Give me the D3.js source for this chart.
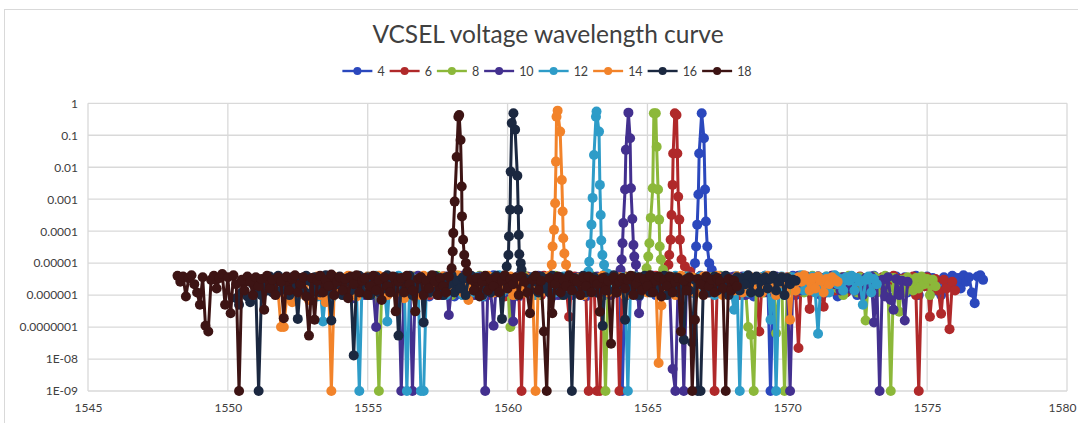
<!DOCTYPE html>
<html>
<head>
<meta charset="utf-8">
<script src="https://cdn.jsdelivr.net/npm/d3@7"></script>
<style>
  body { margin: 0; background: #fff; }
  svg { display: block; }
</style>
</head>
<body>
<svg id="chart" width="1078" height="423"></svg>
<script>
// Drive voltage of each sweep (series name) and its colour
const seriesNames = ["4", "6", "8", "10", "12", "14", "16", "18"];
const seriesColors = ["#2b48bd", "#b0292a", "#8cb83a", "#43308f", "#2e9cc8", "#f2832a", "#1b2840", "#3d1414"];

// Spectrum sampling: first wavelength of each sweep (nm) and the instrument step
const sweepStart = [1557.0, 1556.0, 1555.3, 1554.3, 1553.2, 1551.8, 1550.3, 1548.2];
const sampleStep = 0.1;

// Noise-floor readings, in units of 1e-6 (0.001 = the 1E-09 floor)
const floorUnit = 1e-6;
const floor4 = [
  1.2, 3.0, 0.9, 2.6, 1.6, 3.8, 1.0, 2.2, 3.4, 1.4,
  2.6, 0.9, 3.4, 1.9, 4.0, 1.2, 2.2, 3.0, 1.0, 2.6,
  3.8, 1.4, 0.9, 3.0, 1.9, 4.2, 1.2, 2.6, 3.4, 1.0,
  2.2, 3.6, 1.4, 3.0, 0.9, 1.9, 3.8, 1.2, 2.6, 1.6,
  3.4, 1.0, 2.2, 3.8, 1.4, 2.6, 0.9, 3.0, 1.9, 3.6,
  1.2, 2.6, 4.0, 1.0, 2.2, 3.4, 1.6, 2.8, 0.9, 3.0,
  1.9, 3.6, 1.2, 2.6, 3.8, 1.0, 2.2, 1.4, 3.2, 2.6,
  3.8, 0.001, 1.9, 3.0, 1.2, 3.4, 2.2, 0.9, 2.6, 3.6,
  1.4, 2.8, 4.0, 1.0, 3.0, 1.9, 2.6, 3.8, 1.2, 2.2,
  3.4, 1.0, 2.6, 1.6, 3.8, 2.2, 3.0, 3.6, 4.2, 4.4,
  4.6, 4.2, 3.8, 4.4, 3.6, 3.0, 1.9, 3.4, 1.2, 2.6,
  1.6, 3.8, 1.0, 3.0, 2.2, 1.4, 3.6, 2.6, 0.9, 3.0,
  1.9, 3.4, 2.2, 3.8, 0.001, 1.6, 1.0, 3.0, 3.6, 1.4,
  2.6, 1.9, 4.0, 1.0, 3.2, 2.2, 1.4, 3.6, 1.2, 3.0,
  2.2, 3.8, 1.0, 2.6, 3.4, 1.6, 3.0, 4.0, 0.9, 1.9,
  3.4, 1.2, 2.6, 3.8, 1.9, 1.0, 3.6, 2.2, 3.0, 1.4,
  2.6, 4.0, 1.2, 3.2, 2.2, 3.6, 0.9, 3.0, 1.9, 3.8,
  1.4, 2.6, 3.6, 1.2, 3.4, 2.2, 4.0, 1.0, 3.0, 1.9,
  3.8, 2.2, 3.4, 1.4, 2.8, 1.0, 3.6, 1.9, 3.0, 4.0,
  2.2, 3.4, 1.6, 4.2, 2.6, 3.6, 1.2, 0.56, 3.8, 4.2,
  3.0
];
const floor6 = [
  2.6, 1.2, 3.4, 1.6, 2.8, 0.9, 3.8, 1.9, 1.2, 3.0,
  2.2, 3.6, 1.0, 2.6, 1.6, 3.4, 1.0, 3.8, 2.2, 1.4,
  3.4, 1.2, 3.0, 4.0, 1.0, 2.6, 3.6, 1.6, 2.8, 1.2,
  3.2, 1.9, 3.8, 1.0, 3.0, 2.2, 1.4, 3.4, 2.6, 0.9,
  3.6, 2.2, 1.4, 3.0, 1.9, 0.001, 2.8, 3.8, 1.2, 2.6,
  1.6, 3.4, 1.0, 4.0, 2.2, 1.4, 3.2, 1.9, 3.6, 1.0,
  3.0, 1.6, 0.21, 2.6, 3.8, 1.4, 3.2, 2.2, 1.2, 0.001,
  3.4, 1.9, 0.001, 0.001, 3.0, 1.4, 3.6, 2.6, 1.2, 3.2,
  0.001, 2.2, 3.8, 1.0, 3.0, 1.6, 3.4, 1.2, 2.6, 3.6,
  1.4, 3.2, 1.9, 4.0, 1.2, 3.0, 2.2, 3.4, 4.0, 4.4,
  4.8, 4.2, 4.6, 4.4, 4.0, 3.6, 2.6, 3.4, 1.6, 3.0,
  2.2, 3.8, 1.2, 3.0, 0.001, 3.4, 1.9, 3.6, 1.2, 2.6,
  3.2, 1.6, 3.8, 1.0, 3.0, 2.2, 3.4, 1.4, 2.6, 3.6,
  0.073, 3.0, 1.9, 3.8, 1.2, 3.2, 2.6, 1.6, 3.4, 1.2,
  3.6, 2.2, 3.0, 1.2, 0.022, 3.4, 1.9, 3.8, 0.37, 2.6,
  1.4, 3.4, 1.2, 0.43, 3.0, 2.2, 4.0, 1.4, 3.2, 1.9,
  3.6, 1.2, 2.6, 3.4, 1.6, 3.0, 3.8, 1.0, 2.2, 3.2,
  1.4, 3.4, 2.6, 1.6, 3.6, 1.2, 3.0, 2.2, 4.0, 1.9,
  3.2, 1.2, 3.4, 2.6, 1.6, 3.8, 1.0, 0.001, 3.0, 1.9,
  3.6, 0.21, 2.2, 3.2, 1.4, 0.26, 3.0, 1.6, 0.086, 2.6,
  1.4
];
const floor8 = [
  1.2, 0.001, 1.6, 0.9, 3.0, 1.2, 2.6, 3.6, 1.0, 2.2,
  1.4, 3.2, 0.9, 1.9, 3.8, 1.2, 2.8, 1.0, 3.4, 1.6,
  3.0, 1.2, 4.0, 2.2, 1.4, 3.4, 2.6, 1.0, 3.6, 1.6,
  2.8, 3.8, 1.2, 3.0, 1.9, 1.0, 3.4, 4.0, 1.4, 2.6,
  3.2, 1.4, 3.6, 2.2, 3.0, 1.2, 3.8, 2.6, 0.1, 1.9,
  3.4, 1.4, 2.8, 4.0, 1.2, 3.2, 1.9, 3.6, 1.0, 3.0,
  2.2, 3.6, 1.4, 3.0, 4.0, 1.6, 1.0, 3.4, 2.6, 3.8,
  1.4, 3.0, 2.2, 3.6, 1.0, 3.4, 2.6, 4.0, 1.4, 2.8,
  3.2, 1.6, 0.001, 3.4, 1.2, 3.0, 3.8, 2.2, 1.4, 3.6,
  2.6, 1.2, 3.8, 2.2, 3.2, 1.4, 3.4, 3.8, 4.4, 4.0,
  4.6, 4.2, 3.8, 4.8, 4.0, 3.0, 1.9, 3.6, 1.2, 3.2,
  2.2, 3.8, 1.4, 3.0, 3.4, 1.2, 3.6, 1.9, 3.2, 1.6,
  3.6, 1.4, 2.6, 4.0, 2.2, 1.2, 3.4, 3.0, 1.6, 3.8,
  1.4, 3.2, 2.2, 0.1, 0.057, 0.001, 3.0, 1.6, 3.6, 1.2,
  3.4, 2.6, 3.8, 0.064, 1.9, 3.2, 0.001, 2.2, 3.6, 1.4,
  3.0, 1.6, 3.6, 1.2, 3.2, 2.6, 4.0, 1.9, 1.4, 3.4,
  2.2, 3.8, 1.4, 3.0, 3.4, 1.6, 3.6, 1.0, 2.6, 4.0,
  1.9, 3.2, 1.2, 3.6, 2.6, 0.16, 3.0, 1.6, 3.8, 1.2,
  3.2, 2.2, 4.0, 1.6, 0.001, 3.4, 1.9, 0.3, 3.0, 1.2,
  3.6, 2.6, 1.4, 3.4, 1.6, 3.8, 2.2, 3.2, 1.0, 3.0,
  1.9
];
const floor10 = [
  0.9, 1.6, 0.8, 2.6, 1.2, 3.4, 1.0, 1.9, 3.0, 1.4,
  0.1, 2.8, 1.4, 3.6, 1.0, 2.2, 3.2, 1.2, 3.8, 0.001,
  2.6, 1.4, 3.4, 0.001, 1.9, 4.0, 1.2, 3.0, 2.2, 1.4,
  3.6, 2.6, 1.4, 3.2, 1.0, 3.8, 0.24, 1.9, 3.4, 1.2,
  3.0, 4.0, 1.4, 2.6, 3.6, 1.0, 2.8, 3.8, 1.6, 0.001,
  3.2, 1.2, 0.11, 3.0, 2.2, 3.8, 1.2, 3.4, 2.6, 0.15,
  2.8, 4.0, 1.4, 3.2, 1.9, 3.6, 1.0, 3.0, 4.0, 1.6,
  2.6, 3.4, 1.2, 3.8, 2.2, 1.0, 3.2, 2.8, 3.8, 1.4,
  3.0, 1.6, 3.6, 1.2, 2.8, 4.0, 1.4, 3.2, 2.2, 3.8,
  1.2, 3.0, 1.6, 3.4, 1.0, 3.8, 2.6, 3.6, 4.2, 4.6,
  4.2, 3.8, 4.4, 4.0, 0.27, 3.4, 2.6, 1.4, 3.2, 1.6,
  3.6, 1.2, 3.0, 2.2, 3.8, 1.4, 0.0049, 0.001, 2.8, 3.4,
  0.001, 2.6, 3.8, 1.2, 3.2, 1.6, 4.0, 1.4, 3.0, 2.2,
  3.4, 1.4, 2.8, 3.8, 1.2, 3.2, 2.6, 3.6, 1.4, 3.0,
  1.6, 3.8, 1.0, 3.4, 2.8, 1.4, 3.6, 2.2, 3.2, 4.0,
  1.2, 3.0, 1.6, 3.8, 2.6, 1.2, 3.4, 2.8, 0.001, 3.2,
  2.2, 4.0, 1.4, 3.0, 3.6, 1.6, 3.2, 1.4, 3.8, 2.6,
  3.4, 1.2, 2.8, 4.0, 2.2, 3.2, 1.4, 3.6, 3.0, 1.6,
  3.8, 1.4, 3.2, 2.6, 1.0, 3.4, 1.6, 3.8, 0.14, 2.8,
  0.001, 3.0, 0.9, 3.6, 0.7, 0.35, 3.2, 1.0, 2.8, 0.16,
  2.6
];
const floor12 = [
  0.9, 1.9, 0.15, 1.2, 3.0, 0.8, 2.6, 1.2, 3.6, 1.4,
  2.8, 1.0, 3.4, 1.6, 1.2, 0.001, 3.2, 1.4, 3.8, 1.0,
  2.6, 4.0, 1.2, 3.0, 1.6, 0.15, 3.6, 1.4, 2.8, 4.0,
  1.2, 3.2, 0.001, 2.2, 3.4, 1.2, 3.0, 0.001, 0.001, 2.6,
  3.8, 1.2, 2.8, 1.4, 3.6, 2.2, 1.0, 3.2, 4.0, 1.4,
  2.6, 3.4, 1.0, 3.8, 1.6, 3.0, 1.2, 3.6, 2.2, 0.9,
  3.2, 1.6, 3.6, 1.4, 2.8, 4.2, 1.2, 3.0, 2.6, 1.4,
  3.4, 1.0, 3.8, 2.2, 3.2, 1.2, 2.8, 3.6, 1.0, 3.0,
  1.6, 3.6, 1.4, 2.6, 4.0, 1.2, 3.2, 2.2, 3.8, 1.2,
  2.8, 1.4, 3.4, 1.6, 3.0, 1.0, 3.6, 3.4, 4.4, 4.0,
  3.8, 4.2, 3.6, 4.0, 4.6, 3.4, 2.2, 3.0, 1.4, 3.6,
  2.6, 0.001, 3.2, 1.4, 3.8, 1.6, 1.2, 3.0, 3.8, 2.2,
  1.2, 3.4, 2.8, 1.0, 3.6, 1.6, 3.2, 1.4, 4.0, 2.6,
  3.0, 1.4, 3.8, 2.2, 1.2, 3.2, 2.8, 3.8, 1.4, 3.4,
  1.6, 3.0, 1.0, 3.6, 2.6, 1.4, 3.8, 2.8, 1.2, 0.35,
  3.2, 0.001, 2.2, 3.8, 1.2, 3.0, 1.6, 3.6, 1.4, 2.8,
  4.0, 2.6, 0.17, 3.4, 0.001, 1.6, 3.8, 1.0, 3.0, 2.2,
  3.6, 1.4, 2.8, 4.2, 1.4, 3.2, 2.6, 3.8, 1.2, 0.062,
  3.0, 1.6, 3.8, 1.2, 3.4, 4.2, 2.2, 3.2, 1.4, 3.6,
  2.8, 4.0, 1.4, 3.4, 2.6, 0.5, 3.0, 3.8, 1.2, 3.2,
  2.2
];
const floor14 = [
  1.2, 0.1, 0.1, 0.8, 1.6, 0.6, 2.8, 1.0, 3.4, 1.2,
  2.6, 0.7, 3.0, 1.4, 3.8, 1.0, 2.6, 0.6, 3.2, 0.001,
  1.4, 3.6, 1.9, 1.0, 3.4, 4.0, 1.4, 2.8, 0.9, 3.6,
  2.2, 1.2, 3.8, 3.0, 1.2, 2.6, 4.0, 1.4, 3.2, 1.0,
  3.6, 1.9, 1.2, 3.4, 2.8, 0.8, 3.0, 3.8, 1.4, 2.2,
  3.2, 1.0, 4.0, 2.6, 1.4, 3.6, 1.2, 3.0, 1.9, 3.8,
  1.2, 2.8, 3.4, 1.4, 4.2, 2.2, 1.2, 3.2, 0.7, 3.8,
  2.6, 1.4, 3.4, 1.0, 3.0, 4.0, 1.9, 1.2, 3.6, 2.8,
  1.4, 3.2, 2.2, 3.8, 1.0, 3.0, 1.6, 4.0, 1.2, 3.4,
  2.6, 1.4, 0.001, 3.2, 1.2, 3.6, 2.8, 4.0, 4.6, 4.2,
  4.0, 3.8, 4.4, 4.2, 3.6, 2.6, 1.4, 3.4, 1.6, 1.0,
  3.0, 3.6, 1.2, 2.6, 3.4, 1.4, 4.0, 2.2, 1.2, 3.2,
  2.8, 1.4, 3.6, 1.6, 1.0, 3.4, 2.6, 3.8, 1.2, 3.0,
  1.6, 3.2, 1.2, 3.6, 2.2, 3.0, 0.0075, 0.47, 3.4, 1.4,
  2.8, 3.6, 1.0, 2.6, 4.0, 1.4, 3.2, 1.6, 3.6, 1.2,
  3.0, 2.2, 3.8, 1.2, 2.8, 3.4, 1.4, 4.0, 2.6, 1.0,
  3.6, 1.6, 3.0, 1.4, 3.8, 2.6, 1.2, 3.2, 2.2, 3.6,
  1.4, 2.8, 3.4, 1.2, 3.0, 4.0, 1.6, 3.2, 1.0, 2.6,
  3.6, 2.2, 3.4, 0.17, 2.8, 1.4, 3.6, 2.6, 4.2, 3.0,
  1.4, 3.4, 1.6, 3.8, 2.8, 1.2, 3.2, 2.2, 3.6, 3.0,
  2.6
];
const floor16 = [
  0.8, 0.5, 1.2, 2.6, 0.9, 0.6, 2.2, 1.4, 0.001, 1.0,
  3.0, 1.4, 3.8, 1.2, 2.6, 4.0, 1.4, 3.2, 1.9, 1.0,
  3.6, 2.2, 0.18, 3.4, 1.4, 4.0, 2.8, 1.2, 3.6, 1.6,
  1.2, 3.0, 4.2, 1.4, 0.16, 3.2, 2.2, 3.8, 1.0, 2.6,
  3.4, 1.4, 0.013, 3.0, 4.0, 1.2, 2.8, 3.6, 1.0, 2.2,
  3.8, 1.2, 3.2, 1.6, 4.2, 1.4, 2.6, 3.6, 0.054, 3.0,
  1.4, 3.4, 4.0, 1.0, 2.8, 1.6, 3.6, 0.14, 2.6, 1.2,
  3.2, 4.0, 1.4, 3.0, 1.0, 3.6, 2.2, 4.2, 1.2, 2.8,
  1.6, 3.6, 1.0, 3.2, 4.0, 1.4, 2.6, 3.4, 1.0, 3.8,
  2.2, 1.2, 3.4, 4.0, 2.8, 0.18, 3.2, 4.4, 4.8, 4.2,
  4.0, 3.6, 4.4, 3.4, 3.0, 1.4, 3.4, 2.6, 1.2, 3.8,
  1.6, 3.2, 1.2, 4.0, 2.6, 1.4, 3.6, 1.0, 3.0, 2.2,
  0.001, 3.4, 1.4, 2.8, 4.0, 1.2, 3.2, 1.6, 3.6, 1.2,
  2.6, 0.11, 3.6, 1.4, 3.0, 4.2, 1.2, 2.2, 3.4, 0.17,
  2.8, 1.4, 3.8, 1.6, 1.0, 3.2, 4.0, 2.6, 1.2, 3.0,
  3.6, 1.4, 2.8, 4.0, 1.0, 3.4, 1.6, 3.6, 1.2, 2.6,
  0.04, 3.2, 1.4, 0.033, 3.0, 0.001, 0.001, 2.2, 3.6, 1.2,
  2.8, 3.8, 1.4, 3.2, 1.6, 4.0, 1.0, 3.0, 2.6, 3.6,
  1.4, 3.4, 2.2, 4.2, 1.2, 3.0, 3.8, 1.2, 2.8, 3.6,
  1.6, 3.2, 4.0, 1.4, 2.6, 3.6, 1.0, 3.4, 2.2, 3.0,
  2.8
];
const floor18 = [
  4.0, 2.6, 3.8, 0.9, 3.4, 4.2, 2.2, 1.2, 0.5, 3.6,
  0.11, 0.073, 3.0, 4.0, 1.6, 3.4, 4.6, 0.5, 3.6, 0.27,
  4.2, 2.2, 0.001, 3.0, 1.4, 3.8, 2.6, 1.0, 3.6, 1.9,
  3.2, 0.35, 4.0, 1.6, 3.0, 1.0, 3.6, 2.6, 0.19, 3.8,
  1.4, 3.2, 4.2, 1.2, 2.2, 3.6, 0.9, 0.054, 3.4, 0.17,
  2.8, 4.0, 1.2, 3.0, 1.9, 4.4, 1.0, 2.6, 3.6, 1.4,
  3.2, 0.8, 3.8, 2.2, 4.2, 1.2, 2.8, 3.4, 1.0, 1.9,
  4.0, 1.4, 3.0, 0.7, 3.6, 1.9, 1.2, 3.8, 0.31, 2.6,
  3.4, 1.2, 4.0, 2.2, 1.4, 0.31, 3.2, 3.6, 1.0, 2.8,
  1.6, 4.2, 2.6, 1.0, 3.4, 1.9, 1.2, 3.8, 4.4, 4.0,
  3.8, 3.2, 4.2, 3.6, 4.4, 3.0, 1.4, 3.4, 0.9, 2.6,
  4.0, 1.4, 3.0, 1.9, 3.6, 1.2, 2.8, 4.2, 1.6, 3.2,
  2.2, 3.6, 1.0, 3.8, 2.6, 1.2, 0.27, 3.0, 4.0, 1.4,
  2.8, 0.073, 0.001, 3.4, 0.27, 2.2, 3.8, 1.2, 3.0, 1.9,
  4.2, 1.4, 3.2, 2.6, 1.0, 3.6, 1.9, 3.8, 1.2, 3.0,
  2.2, 0.3, 3.4, 1.4, 2.8, 0.03, 3.6, 1.2, 2.6, 3.4,
  1.6, 3.0, 4.0, 1.0, 2.2, 3.6, 1.4, 3.2, 1.9, 4.2,
  1.2, 2.8, 3.8, 0.9, 3.0, 1.9, 3.8, 1.2, 2.6, 3.4,
  0.073, 2.8, 1.4, 3.6, 0.001, 0.17, 3.2, 2.2, 1.0, 3.8,
  1.9, 3.0, 1.2, 3.4, 2.6, 1.6, 0.001, 3.2, 1.4, 2.8,
  1.9
];

// Lasing peaks: [wavelength nm, power], finely sampled around each line
const peak4 = [[1566.70,1.0e-5],[1566.74,3.3e-5],[1566.78,1.6e-4],[1566.82,1.4e-3],[1566.85,0.027],[1566.94,0.49],
  [1567.02,0.081],[1567.06,2.0e-3],[1567.09,2.0e-4],[1567.14,3.3e-5],[1567.21,1.0e-5],[1567.30,6.2e-6]];
const peak6 = [[1565.75,8.9e-6],[1565.78,1.8e-5],[1565.83,5.4e-5],[1565.86,3.2e-4],[1565.90,2.8e-3],[1565.92,0.027],
  [1565.98,0.49],[1566.04,0.43],[1566.07,0.027],[1566.10,1.2e-3],[1566.14,2.3e-4],[1566.16,5.4e-5],[1566.22,1.3e-5],
  [1566.34,7.9e-6],[1566.52,5.5e-6]];
const peak8 = [[1564.97,6.9e-6],[1565.03,1.6e-5],[1565.07,4.2e-5],[1565.12,2.6e-4],[1565.19,2.2e-3],[1565.23,0.49],
  [1565.30,0.49],[1565.33,0.044],[1565.38,2.0e-3],[1565.42,2.3e-4],[1565.44,3.3e-5],[1565.48,1.3e-5],[1565.56,6.2e-6]];
const peak10 = [[1564.04,6.2e-6],[1564.08,1.3e-5],[1564.11,4.2e-5],[1564.14,1.8e-4],[1564.20,2.0e-3],[1564.23,0.035],
  [1564.32,0.51],[1564.38,0.081],[1564.41,2.2e-3],[1564.46,2.4e-4],[1564.50,3.7e-5],[1564.53,1.6e-5],[1564.59,8.9e-6]];
const peak12 = [[1562.89,5.5e-6],[1562.92,1.1e-5],[1562.97,4.0e-5],[1563.00,1.6e-4],[1563.04,1.1e-3],[1563.09,0.024],
  [1563.16,0.38],[1563.18,0.55],[1563.27,0.13],[1563.30,2.8e-3],[1563.33,3.2e-4],[1563.35,5.1e-5],[1563.39,1.8e-5],
  [1563.45,8.9e-6],[1563.52,4.9e-6]];
const peak14 = [[1561.58,8.9e-6],[1561.61,3.3e-5],[1561.66,1.1e-4],[1561.70,7.5e-4],[1561.73,0.015],[1561.75,0.38],
  [1561.79,0.59],[1561.88,0.13],[1561.94,4.0e-3],[1561.97,4.1e-4],[1561.99,6.0e-5],[1562.03,2.0e-5],[1562.09,8.9e-6]];
const peak16 = [[1559.97,7.8e-6],[1560.03,1.8e-5],[1560.05,6.8e-5],[1560.09,4.7e-4],[1560.11,7.3e-3],[1560.15,0.24],
  [1560.21,0.49],[1560.27,0.15],[1560.35,5.4e-3],[1560.38,4.7e-4],[1560.40,7.6e-5],[1560.42,1.9e-5],[1560.47,1.0e-5],
  [1560.50,6.2e-6]];
const peak18 = [[1558.00,6.9e-6],[1558.04,2.3e-5],[1558.06,8.7e-5],[1558.11,8.4e-4],[1558.18,0.021],[1558.24,0.38],
  [1558.27,0.43],[1558.32,0.071],[1558.36,2.5e-3],[1558.37,2.9e-4],[1558.41,5.4e-5],[1558.45,1.8e-5],[1558.51,1.0e-5],
  [1558.56,5.5e-6]];

// Axis ticks
const xTicks = [1545, 1550, 1555, 1560, 1565, 1570, 1575, 1580];
const yTicks = [1, 0.1, 0.01, 0.001, 0.0001, 0.00001, 0.000001, 0.0000001, 1e-8, 1e-9];
const yTickLabels = ["1", "0.1", "0.01", "0.001", "0.0001", "0.00001", "0.000001", "0.0000001", "1E-08", "1E-09"];

const titleText = "VCSEL voltage wavelength curve";

const floors = [floor4, floor6, floor8, floor10, floor12, floor14, floor16, floor18];
const peaks = [peak4, peak6, peak8, peak10, peak12, peak14, peak16, peak18];

// Merge each sweep's floor samples with its finely sampled peak
const series = seriesNames.map((name, i) => {
  const pk = peaks[i];
  const lo = pk[0][0] - 0.05, hi = pk[pk.length - 1][0] + 0.05;
  const pts = floors[i]
    .map((v, k) => [Math.round((sweepStart[i] + k * sampleStep) * 100) / 100, v * floorUnit])
    .filter(d => d[0] < lo || d[0] > hi)
    .concat(pk)
    .sort((a, b) => a[0] - b[0]);
  return { name, color: seriesColors[i], points: pts };
});

const svg = d3.select("#chart");
const font = "Lato, 'Open Sans', sans-serif";
const textColor = "#404040";
const gridColor = "#d9d9d9";

// Chart frame
svg.append("rect").attr("x", 4.5).attr("y", 9.5).attr("width", 1100).attr("height", 500)
  .attr("fill", "#fff").attr("stroke", "#d9d9d9").attr("stroke-width", 1);

const x = d3.scaleLinear().domain([1545, 1580]).range([88, 1067]);
const y = d3.scaleLog().domain([1e-9, 1]).range([391, 103.3]);

// Gridlines
const grid = svg.append("g");
grid.selectAll("line.h").data(yTicks).join("line")
  .attr("x1", x(1545)).attr("x2", x(1580))
  .attr("y1", d => y(d)).attr("y2", d => y(d))
  .attr("stroke", gridColor).attr("stroke-width", 1.3);
grid.selectAll("line.v").data(xTicks).join("line")
  .attr("y1", y(1)).attr("y2", y(1e-9))
  .attr("x1", d => x(d)).attr("x2", d => x(d))
  .attr("stroke", gridColor).attr("stroke-width", 1.3);

// Axes (labels only; lines come from the grid)
const yAxis = d3.axisLeft(y).tickValues(yTicks).tickSize(0).tickPadding(10)
  .tickFormat((d, i) => yTickLabels[i]);
svg.append("g").attr("transform", `translate(${x(1545)},0)`).call(yAxis)
  .call(g => g.select(".domain").remove())
  .selectAll("text").attr("font-family", font).attr("font-size", 12).attr("fill", textColor);

const xAxis = d3.axisBottom(x).tickValues(xTicks).tickSize(0).tickPadding(12)
  .tickFormat(d3.format("d"));
svg.append("g").attr("transform", `translate(0,${y(1e-9)})`).call(xAxis)
  .call(g => g.select(".domain").remove())
  .selectAll("text").attr("font-family", font).attr("font-size", 12).attr("fill", textColor)
  .attr("dx", d => d === 1580 ? -5 : 0);

// Series: line and markers, drawn series by series
const line = d3.line().x(d => x(d[0])).y(d => y(d[1]));
const plot = svg.append("g");
series.forEach(s => {
  const g = plot.append("g");
  g.append("path").datum(s.points).attr("d", line)
    .attr("fill", "none").attr("stroke", s.color).attr("stroke-width", 3)
    .attr("stroke-linejoin", "round");
  g.selectAll("circle").data(s.points).join("circle")
    .attr("cx", d => x(d[0])).attr("cy", d => y(d[1])).attr("r", 5)
    .attr("fill", s.color);
});

// Title
svg.append("text").attr("x", 548).attr("y", 43).attr("text-anchor", "middle")
  .attr("font-family", font).attr("font-size", 24.5).attr("fill", textColor)
  .text(titleText);

// Legend
const legend = svg.append("g");
const items = series.map(s => {
  const g = legend.append("g");
  g.append("line").attr("x1", 0).attr("x2", 30).attr("y1", 0).attr("y2", 0)
    .attr("stroke", s.color).attr("stroke-width", 2.4);
  g.append("circle").attr("cx", 15).attr("cy", 0).attr("r", 4).attr("fill", s.color);
  const t = g.append("text").attr("x", 35).attr("y", 4.5)
    .attr("font-family", font).attr("font-size", 12.5).attr("fill", textColor).text(s.name);
  return { g, w: 35 + t.node().getComputedTextLength() };
});
const gap = 5;
const total = d3.sum(items, d => d.w) + gap * (items.length - 1);
let lx = 547 - total / 2;
items.forEach(it => {
  it.g.attr("transform", `translate(${lx},71)`);
  lx += it.w + gap;
});
</script>
</body>
</html>
